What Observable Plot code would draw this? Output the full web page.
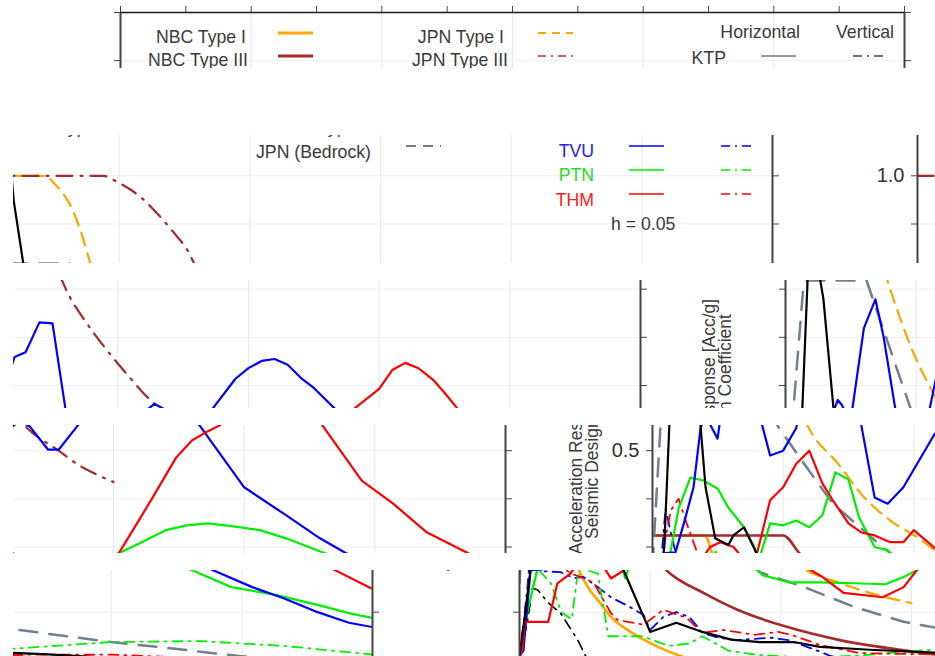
<!DOCTYPE html>
<html><head><meta charset="utf-8">
<script src="https://cdn.jsdelivr.net/npm/d3@7"></script>
<script src="https://cdn.jsdelivr.net/npm/@observablehq/plot@0.6"></script>
<style>
html,body{margin:0;padding:0;background:#fff;}
#root{position:relative;width:935px;height:656px;overflow:hidden;background:#fff;}
.strip{position:absolute;overflow:hidden;}
.strip svg{position:absolute;max-width:none !important;}
</style></head><body><div id="root"></div>
<script>
// ---------- data: [period (s), normalized acceleration] ----------
const nbcType1 = [[0,0.324],[0.2,0.324],[0.233,0.281],[0.27,0.245],[0.30,0.225],[0.35,0.19],[0.425,0.159],[0.53,0.128],[0.616,0.109],[0.75,0.09],[1.0,0.067],[1.5,0.045],[2.0,0.034],[3.0,0.022]];
const nbcType3 = [[0,0.324],[0.5,0.324],[0.566,0.285],[0.704,0.24],[0.834,0.205],[1.026,0.169],[1.217,0.143],[1.508,0.118],[2.0,0.09],[2.5,0.073],[3.0,0.062]];
const jpnType1 = [[0,1.0],[0.22,1.0],[0.25,0.985],[0.28,0.967],[0.31,0.942],[0.35,0.89],[0.39,0.818],[0.48,0.68],[0.574,0.574],[0.60,0.545],[0.71,0.473],[0.81,0.403],[0.91,0.355],[1.03,0.314],[1.08,0.293],[1.23,0.26],[1.34,0.24],[1.50,0.219]];
const jpnType3 = [[0,1.0],[0.44,1.0],[0.49,0.988],[0.55,0.969],[0.59,0.952],[0.65,0.919],[0.70,0.888],[0.77,0.837],[0.81,0.79],[0.87,0.738],[0.94,0.686],[1.04,0.62],[1.10,0.583],[1.14,0.562],[1.19,0.537],[1.29,0.50],[1.37,0.469],[1.43,0.452],[1.50,0.435]];
const jpnBedrock = [[0,0.26],[0.004,0.30],[0.031,0.556],[0.069,0.81],[0.085,0.818],[0.31,0.818],[0.48,0.55],[0.58,0.473],[0.69,0.39],[0.88,0.30],[0.92,0.283],[1.09,0.252],[1.28,0.211],[1.47,0.18],[1.62,0.165],[2.0,0.138],[2.21,0.126],[2.49,0.109],[3.0,0.088]];
const ktpH = [[0,0.11],[0.02,0.19],[0.045,0.30],[0.065,0.56],[0.084,0.812],[0.09,0.99],[0.096,0.95],[0.134,0.815],[0.145,0.78],[0.184,0.55],[0.203,0.424],[0.24,0.318],[0.29,0.304],[0.31,0.324],[0.35,0.341],[0.40,0.285],[0.50,0.159],[0.60,0.178],[0.70,0.159],[0.81,0.143],[0.92,0.138],[1.05,0.138],[1.15,0.128],[1.34,0.122],[1.59,0.116],[1.74,0.113],[2.0,0.105],[2.5,0.095],[3.0,0.085]];
const ktpV = [[0,0.1],[0.03,0.18],[0.05,0.25],[0.07,0.246],[0.107,0.221],[0.157,0.198],[0.222,0.143],[0.253,0.109],[0.3,0.09],[0.5,0.07],[1.0,0.05],[2.0,0.035],[3.0,0.025]];
const tvuH = [[0,0.11],[0.015,0.12],[0.042,0.287],[0.088,0.289],[0.12,0.349],[0.157,0.424],[0.184,0.547],[0.20,0.57],[0.215,0.56],[0.249,0.525],[0.256,0.552],[0.30,0.719],[0.344,0.779],[0.375,0.702],[0.42,0.552],[0.45,0.49],[0.50,0.50],[0.55,0.547],[0.574,0.61],[0.605,0.659],[0.647,0.669],[0.70,0.731],[0.75,0.729],[0.80,0.55],[0.85,0.403],[0.90,0.39],[0.96,0.424],[1.08,0.535],[1.14,0.562],[1.18,0.55],[1.25,0.502],[1.29,0.502],[1.36,0.55],[1.45,0.614],[1.50,0.636],[1.55,0.651],[1.60,0.655],[1.65,0.643],[1.70,0.616],[1.75,0.595],[1.83,0.552],[2.0,0.424],[2.16,0.366],[2.29,0.318],[2.39,0.287],[2.54,0.252],[2.66,0.229],[2.79,0.20],[2.91,0.178],[3.0,0.169]];
const tvuV = [[0,0.1],[0.03,0.25],[0.05,0.38],[0.07,0.33],[0.09,0.285],[0.157,0.283],[0.207,0.271],[0.245,0.273],[0.30,0.252],[0.35,0.231],[0.425,0.21],[0.475,0.194],[0.50,0.163],[0.55,0.19],[0.60,0.20],[0.65,0.19],[0.70,0.157],[0.76,0.147],[0.83,0.142],[0.96,0.147],[1.03,0.142],[1.15,0.118],[1.19,0.109],[1.4,0.09],[2.0,0.07],[3.0,0.05]];
const ptnH = [[0,0.11],[0.03,0.2],[0.07,0.293],[0.10,0.38],[0.145,0.444],[0.195,0.438],[0.25,0.421],[0.29,0.382],[0.35,0.341],[0.39,0.30],[0.405,0.27],[0.45,0.349],[0.50,0.345],[0.55,0.355],[0.60,0.341],[0.65,0.366],[0.70,0.455],[0.75,0.44],[0.79,0.362],[0.85,0.30],[0.90,0.293],[0.93,0.277],[1.03,0.262],[1.15,0.262],[1.28,0.26],[1.40,0.258],[1.47,0.273],[1.52,0.287],[1.60,0.308],[1.70,0.335],[1.78,0.345],[1.86,0.349],[1.96,0.343],[2.06,0.335],[2.16,0.318],[2.31,0.287],[2.46,0.252],[2.63,0.236],[2.79,0.215],[2.91,0.198],[3.0,0.188]];
const ptnV = [[0,0.1],[0.05,0.25],[0.07,0.29],[0.12,0.26],[0.16,0.2],[0.2,0.185],[0.22,0.27],[0.24,0.29],[0.30,0.28],[0.34,0.15],[0.47,0.15],[0.57,0.13],[0.65,0.135],[0.70,0.15],[0.8,0.12],[0.9,0.112],[1.1,0.105],[1.3,0.11],[1.62,0.124],[2.0,0.138],[2.34,0.14],[2.66,0.13],[3.0,0.112]];
const thmH = [[0,0.11],[0.01,0.12],[0.02,0.18],[0.11,0.18],[0.145,0.26],[0.195,0.28],[0.22,0.30],[0.26,0.31],[0.31,0.30],[0.33,0.287],[0.35,0.27],[0.40,0.287],[0.45,0.397],[0.50,0.424],[0.55,0.473],[0.60,0.50],[0.65,0.432],[0.69,0.397],[0.75,0.349],[0.80,0.33],[0.85,0.324],[0.91,0.31],[0.96,0.31],[1.0,0.335],[1.08,0.298],[1.16,0.273],[1.24,0.24],[1.39,0.231],[1.47,0.252],[1.52,0.287],[1.59,0.349],[1.65,0.403],[1.74,0.486],[1.80,0.521],[1.85,0.537],[1.905,0.552],[2.0,0.593],[2.05,0.632],[2.10,0.647],[2.15,0.636],[2.21,0.610],[2.25,0.585],[2.30,0.552],[2.45,0.438],[2.57,0.39],[2.70,0.33],[2.85,0.289],[3.0,0.248]];
const thmV = [[0,0.1],[0.04,0.29],[0.07,0.376],[0.1,0.40],[0.13,0.35],[0.17,0.29],[0.2,0.28],[0.283,0.262],[0.35,0.198],[0.375,0.184],[0.475,0.174],[0.55,0.205],[0.64,0.188],[0.70,0.157],[0.78,0.163],[0.90,0.153],[0.99,0.159],[1.04,0.153],[1.15,0.132],[1.3,0.115],[1.62,0.112],[2.0,0.112],[2.3,0.105],[3.0,0.09]];

// ---------- axes / labels ----------
const xTicks = [0,0.25,0.5,0.75,1,1.25,1.5,1.75,2,2.25,2.5,2.75,3];
const xGridValues = [0.5,1,1.5,2,2.5];
const yTicks = [0,0.1,0.2,0.3,0.4,0.5,0.6,0.7,0.8,0.9,1.0,1.1,1.2];
const yLabelValues = [0,0.5,1.0];
const yTickLabels = ["0.0","0.5","1.0"];
const yTitle = ["Acceleration Response [Acc/g]","Seismic Design Coefficient"];
const designNames = [["NBC Type I","NBC Type III"],["JPN Type I","JPN Type III","JPN (Bedrock)"]];
const stationNames = ["KTP","TVU","PTN","THM"];
const componentNames = ["Horizontal","Vertical"];
const dampingNote = "h = 0.05";

// ---------- styles ----------
const FONT = "'Liberation Sans', Arial, sans-serif";
const col = {orange:"#ffa500", brown:"#a52a2a", slate:"#708090", ktp:"#000000", tvu:"#0000ff", ptn:"#00ee00", thm:"#ff0000"};
const DD = "10,6,2,6";
const ln = (data, stroke, w, dash, curve="linear") => Plot.line(data, {x: d => d[0], y: d => d[1], stroke, strokeWidth: w, strokeDasharray: dash, curve, clip: true});

const chart = Plot.plot({
  width: 930, height: 640,
  marginLeft: 120, marginRight: 26, marginTop: 12, marginBottom: 50,
  x: {domain: [0, 3]},
  y: {domain: [0, 1.2]},
  style: {fontFamily: FONT, color: "#333", background: "transparent", overflow: "visible"},
  marks: [
    Plot.ruleX(xGridValues, {stroke: "#e9e9e9", strokeWidth: 1}),
    Plot.ruleY(yTicks, {stroke: "#efefef", strokeWidth: 1}),
    ln(nbcType1, col.orange, 2.6, null, "monotone-x"),
    ln(nbcType3, col.brown, 2.6, null, "monotone-x"),
    ln(jpnType1, col.orange, 2.2, "13,8", "monotone-x"),
    ln(jpnType3, col.brown, 2.2, "16,8,2,8", "monotone-x"),
    ln(jpnBedrock, col.slate, 2.5, "18,12"),
    ln(tvuV, col.tvu, 1.8, DD),
    ln(ptnV, col.ptn, 1.8, DD),
    ln(thmV, col.thm, 1.8, DD),
    ln(ktpV, col.ktp, 1.6, DD),
    ln(ptnH, col.ptn, 2.2),
    ln(tvuH, col.tvu, 2.2),
    ln(thmH, col.thm, 2.2),
    ln(ktpH, col.ktp, 2.2),
    Plot.axisX({anchor: "top", ticks: xTicks, tickSize: 7, tickFormat: () => "", label: null, stroke: "#444"}),
    Plot.axisY({anchor: "left", ticks: yTicks, tickSize: 6, tickPadding: 7, fontSize: 20, label: null, stroke: "#444",
      tickFormat: d => { const k = yLabelValues.findIndex(v => Math.abs(v - d) < 1e-6); return k >= 0 ? yTickLabels[k] : ""; }}),
    Plot.axisY({anchor: "right", ticks: yTicks, tickSize: 6, tickFormat: () => "", label: null, stroke: "#444"}),
    Plot.ruleX([0, 3], {stroke: "#444", strokeWidth: 2}),
    Plot.ruleY([1.2], {stroke: "#1a1a1a", strokeWidth: 1.6})
  ]
});

// ---------- legend and axis title (layout in pixels of the chart) ----------
const svg = d3.select(chart);
const lg = svg.append("g").attr("font-family", FONT).attr("font-size", 17.7);
const addText = (t, x, y, fill, anchor="end") => lg.append("text").attr("x", x).attr("y", y).attr("fill", fill).attr("text-anchor", anchor).text(t);
const addSample = (x1, x2, y, stroke, w, dash) => lg.append("line").attr("x1", x1).attr("x2", x2).attr("y1", y).attr("y2", y)
  .attr("stroke", stroke).attr("stroke-width", w).attr("stroke-dasharray", dash);
const txt = "#3a3a3a";
addText(designNames[0][0], 246, 43, txt); addSample(278, 313, 33, col.orange, 3, null);
addText(designNames[0][1], 248, 66, txt); addSample(278, 313, 56, col.brown, 3, null);
addText(designNames[1][0], 504, 43, txt); addSample(538, 573, 33, col.orange, 1.8, "8,6");
addText(designNames[1][1], 508, 66, txt); addSample(538, 574, 56, "#c06868", 1.8, "8,5,2,5");
addText(designNames[1][2], 503, 91, txt); addSample(538, 573, 79, col.slate, 2, "10,7");
addText(componentNames[0], 800, 38, txt); addText(componentNames[1], 894, 38, txt);
const stCol = ["#777", col.tvu, col.ptn, col.thm];
const stDash = ["#444", col.tvu, col.ptn, col.thm];
const stTextCol = [txt, "#2020ff", "#22dd22", "#ff2020"];
const stTextY = [64, 90, 114, 139];
const stLineY = [56, 79, 103, 127];
stationNames.forEach((s, i) => {
  addText(s, 726, stTextY[i], stTextCol[i]);
  addSample(761, 796, stLineY[i], stCol[i], 1.6, null);
  addSample(853, 888, stLineY[i], stDash[i], 1.6, "9,5,2,5");
});
addText(dampingNote, 743, 163, txt, "start");
const yt = svg.append("g").attr("font-family", FONT).attr("font-size", 17.5).attr("fill", txt).attr("text-anchor", "middle");
yt.append("text").attr("transform", "translate(50,334) rotate(-90)").text(yTitle[0]);
yt.append("text").attr("transform", "translate(66,334) rotate(-90)").text(yTitle[1]);

// ---------- strip layout of the picture ----------
const strips = [
  {src: 0,   h: 68,  top: 0,   left: 0,  offsets: [0]},
  {src: 68,  h: 128, top: 135, left: 13, offsets: [-132, 797]},
  {src: 196, h: 128, top: 280, left: 13, offsets: [-264, 665]},
  {src: 324, h: 128, top: 425, left: 13, offsets: [-399, 532]},
  {src: 452, h: 86,  top: 570, left: 13, offsets: [-532, 399]}
];
const root = document.getElementById("root");
strips.forEach(st => {
  const div = document.createElement("div");
  div.className = "strip";
  div.style.left = st.left + "px";
  div.style.top = st.top + "px";
  div.style.width = (935 - st.left) + "px";
  div.style.height = st.h + "px";
  st.offsets.forEach(o => {
    const c = chart.cloneNode(true);
    c.style.left = (o - st.left) + "px";
    c.style.top = (-st.src) + "px";
    c.style.maxWidth = "none";
    c.style.width = "930px";
    c.style.height = "640px";
    div.appendChild(c);
  });
  root.appendChild(div);
});
</script></body></html>
